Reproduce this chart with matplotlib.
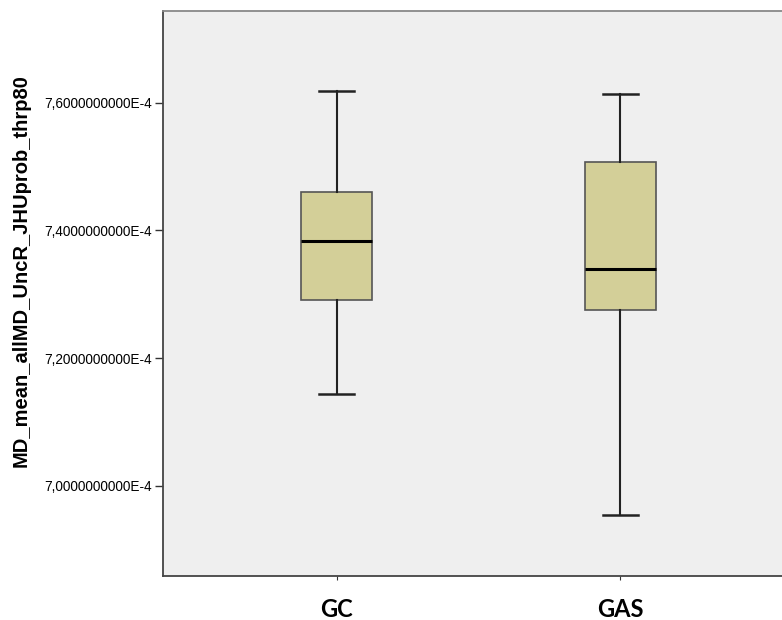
import matplotlib.pyplot as plt
from matplotlib.ticker import FuncFormatter

groups = ['GC', 'GAS']
whislo = [7.1436e-4, 6.9534e-4]
q1 = [7.2909e-4, 7.2752e-4]
med = [7.3829e-4, 7.3395e-4]
q3 = [7.4606e-4, 7.5071e-4]
whishi = [7.6183e-4, 7.6131e-4]
yticks = [7.0e-4, 7.2e-4, 7.4e-4, 7.6e-4]

stats = []
for i in range(len(groups)):
    stats.append({'label': groups[i], 'whislo': whislo[i], 'q1': q1[i], 'med': med[i],
                  'q3': q3[i], 'whishi': whishi[i], 'fliers': []})

fig = plt.figure(figsize=(7.82, 6.2), dpi=100)
ax = fig.add_axes([163 / 782, (620 - 575.7) / 620, (794 - 163) / 782, (575.7 - 11) / 620])
ax.set_facecolor('#efefef')

ax.bxp(stats, positions=range(len(groups)), widths=0.25, patch_artist=True,
       boxprops=dict(facecolor='#d3cf98', edgecolor='#555555', linewidth=1.2),
       medianprops=dict(color='black', linewidth=2.2),
       whiskerprops=dict(color='#222222', linewidth=1.5),
       capprops=dict(color='#222222', linewidth=1.8),
       capwidths=0.125)

ax.set_xlim(-0.611, 1.611)
ax.set_ylim(6.859e-4, 7.7437e-4)
ax.set_yticks(yticks)
ax.yaxis.set_major_formatter(FuncFormatter(lambda v, p: ('%.10fE-4' % (v * 1e4)).replace('.', ',')))
for lab in ax.get_yticklabels():
    lab.set_family('Liberation Sans')
    lab.set_fontsize(9.8)
ax.set_xticks(range(len(groups)))
ax.set_xticklabels(groups, fontsize=17, fontweight='bold', family='Lato')
ax.tick_params(axis='x', length=3, pad=13, color='#333333')
ax.tick_params(axis='y', length=6, width=1, color='#333333', pad=2)
ax.set_ylabel('MD_mean_allMD_UncR_JHUprob_thrp80', fontsize=14.5, fontweight='bold',
              family='Liberation Sans')
ax.yaxis.set_label_coords(-0.209, 0.54)

ax.spines['left'].set_color('#444444')
ax.spines['bottom'].set_color('#444444')
ax.spines['top'].set_color('#888888')
ax.spines['right'].set_color('#888888')
for s in ax.spines.values():
    s.set_linewidth(1.3)

plt.savefig('out.png', dpi=100)
